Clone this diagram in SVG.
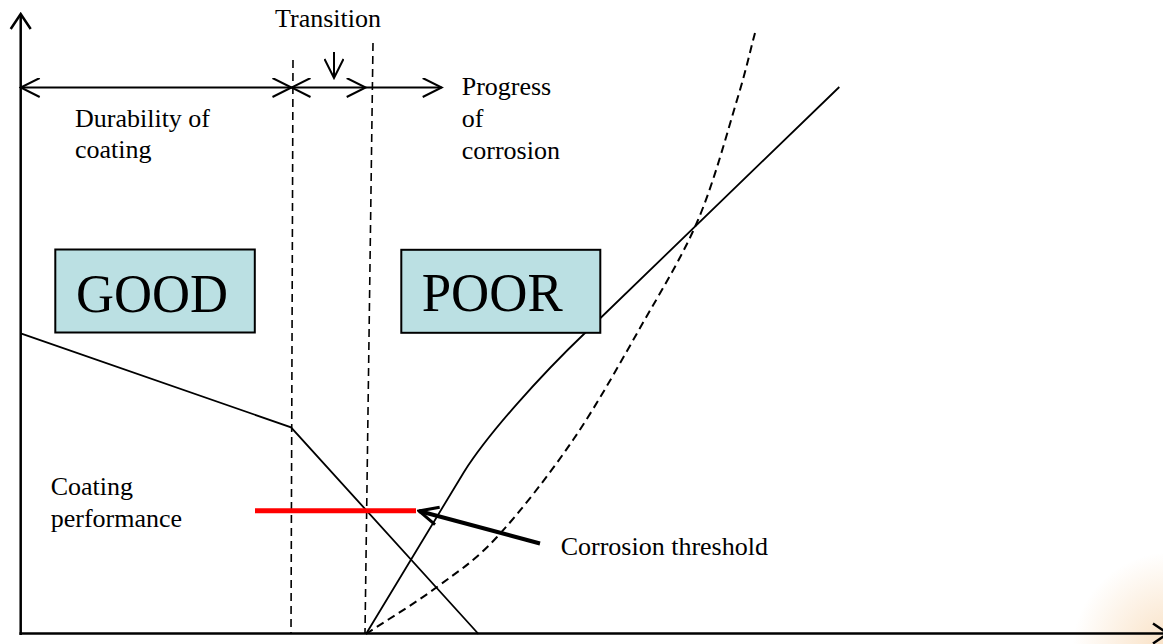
<svg xmlns="http://www.w3.org/2000/svg" width="1163" height="644" viewBox="0 0 1163 644">
<style>
text{font-family:"Liberation Serif","Times New Roman",serif;fill:#000}
.lbl{font-size:26px}
.big{font-size:54px}
.box{fill:#BBE0E3;stroke:#000;stroke-width:2}
.ln{fill:none;stroke:#000;stroke-width:1.8;stroke-linejoin:miter}
.ax{fill:none;stroke:#000;stroke-width:2.5}
.dash{fill:none;stroke:#000;stroke-width:1.6;stroke-dasharray:8,5}
.dashc{fill:none;stroke:#000;stroke-width:2;stroke-dasharray:8,5}
.arr{fill:none;stroke:#000;stroke-width:2}
</style>
<defs>
<marker id="open" viewBox="-20 -10 22 20" refX="0" refY="0" markerWidth="22" markerHeight="20" markerUnits="userSpaceOnUse" orient="auto-start-reverse">
<polyline points="-19,-9.5 0,0 -19,9.5" fill="none" stroke="#000" stroke-width="2"/>
</marker>
<marker id="openAx" viewBox="-20 -12 22 24" refX="0" refY="0" markerWidth="22" markerHeight="24" markerUnits="userSpaceOnUse" orient="auto">
<polyline points="-15,-10 0,0 -15,10" fill="none" stroke="#000" stroke-width="2.5"/>
</marker>
<marker id="openThick" viewBox="-24 -12 26 24" refX="0" refY="0" markerWidth="26" markerHeight="24" markerUnits="userSpaceOnUse" orient="auto">
<polyline points="-19,-9 0,0 -19,9" fill="none" stroke="#000" stroke-width="3"/>
</marker>
<radialGradient id="glow" cx="1172" cy="652" r="100" gradientUnits="userSpaceOnUse">
<stop offset="0" stop-color="#F4C48C" stop-opacity="0.55"/>
<stop offset="1" stop-color="#F4C48C" stop-opacity="0"/>
</radialGradient>
</defs>
<rect width="1163" height="644" fill="#fff"/>
<rect x="1060" y="540" width="103" height="104" fill="url(#glow)"/>

<g id="axes">
<line class="ax" x1="20.7" y1="635" x2="20.7" y2="14" marker-end="url(#openAx)"/>
<line class="ax" x1="19.5" y1="633.5" x2="1168" y2="633.5" marker-end="url(#openAx)"/>
</g>

<g id="dividers">
<line class="dash" x1="293" y1="60" x2="291" y2="633"/>
<line class="dash" x1="373" y1="43" x2="365" y2="633"/>
</g>

<g id="connectors">
<line class="arr" x1="20.7" y1="87.5" x2="291.5" y2="87.5" marker-start="url(#open)" marker-end="url(#open)"/>
<line class="arr" x1="291.5" y1="87.5" x2="365.7" y2="87.5" marker-start="url(#open)" marker-end="url(#open)"/>
<line class="arr" x1="365.7" y1="87.5" x2="441.7" y2="87.5" marker-end="url(#open)"/>
<line class="arr" x1="334" y1="52" x2="334" y2="78" marker-end="url(#open)"/>
<polyline id="coating-performance-line" class="ln" points="20.7,333.3 291,427.3 478.5,634"/>
<path id="corrosion-solid" class="ln" d="M366,634 L464,472 C488,434 540,376 585,333 L839.3,87"/>
<path id="corrosion-dashed" class="dashc" d="M366,634 C389.7,618.3 415.2,603.2 437,587 C458.8,570.8 474.3,561.5 497,537 C519.7,512.5 549.2,474.8 573,440 C596.8,405.2 619.2,364.7 640,328 C660.8,291.3 681.8,258 698,220 C714.2,182 727.5,131.2 737,100 C746.5,68.8 749,55.3 755,33"/>
<line id="threshold-line" x1="255" y1="510.7" x2="416" y2="510.7" stroke="#FF0000" stroke-width="5"/>
<line id="threshold-arrow" x1="540" y1="543.5" x2="419" y2="511" stroke="#000" stroke-width="4" marker-end="url(#openThick)"/>
</g>

<g id="good">
<rect class="box" x="55.3" y="249.5" width="199.5" height="83"/>
<text class="big" x="76" y="311.5" textLength="152" lengthAdjust="spacingAndGlyphs">GOOD</text>
</g>
<g id="poor">
<rect class="box" x="401.3" y="249.8" width="199" height="83"/>
<text class="big" x="421.7" y="311" textLength="141" lengthAdjust="spacingAndGlyphs">POOR</text>
</g>

<g id="label-transition"><text class="lbl" x="275" y="26.7">Transition</text></g>
<g id="label-durability">
<text class="lbl" x="75" y="126.5">Durability of</text>
<text class="lbl" x="75" y="158">coating</text>
</g>
<g id="label-progress">
<text class="lbl" x="461.7" y="95">Progress</text>
<text class="lbl" x="461.7" y="127.3">of</text>
<text class="lbl" x="461.7" y="159.3">corrosion</text>
</g>
<g id="label-coating-performance">
<text class="lbl" x="50.7" y="495">Coating</text>
<text class="lbl" x="50.7" y="527.3">performance</text>
</g>
<g id="label-threshold"><text class="lbl" x="560.7" y="555">Corrosion threshold</text></g>
</svg>
